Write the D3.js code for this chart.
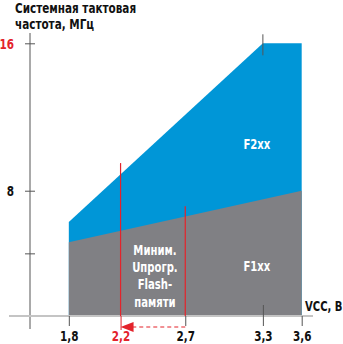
<!DOCTYPE html>
<html>
<head>
<meta charset="utf-8">
<script src="https://cdn.jsdelivr.net/npm/d3@7"></script>
<style>
  body { margin: 0; background: #fff; }
  text { font-family: "Liberation Sans Narrow", "DejaVu Sans Condensed", "Roboto", sans-serif; font-weight: bold; }
</style>
</head>
<body>
<svg id="chart" width="343" height="344"></svg>
<script>
// Supply voltage (V) vs. system clock frequency (MHz) for the two families
const f1Volt = [1.8, 3.6];
const f1Freq = [5.2, 8.0];
const f2Volt = [1.8, 3.3, 3.6];
const f2Freq = [6.3, 16, 16];

const xTicks = [1.8, 2.2, 2.7, 3.3, 3.6];
const xTickLabels = ["1,8", "2,2", "2,7", "3,3", "3,6"];
const yTicks = [4.6, 8, 16];
const yTickLabels = ["", "8", "16"];

// Minimum programming voltage markers
const markerVolt = [2.2, 2.7];
const markerTop = [9.5, 7.15];

const titleLines = ["Системная тактовая", "частота, МГц"];
const midLabel = ["Миним.", "Uпрогр.", "Flash-", "памяти"];

const RED = "#e3232b", BLUE = "#0096d7", GREY = "#808084", AXIS = "#555";
const NARROW = 0.8; // horizontal squeeze for a condensed look

// Squeeze text horizontally around its own anchor point
function narrow(sel, sx = NARROW) {
  sel.each(function () {
    const t = d3.select(this);
    const tx = +t.attr("x") || 0, ty = +t.attr("y") || 0;
    t.attr("x", 0).attr("y", 0)
     .attr("transform", `translate(${tx},${ty}) scale(${sx},1)`);
  });
}

const svg = d3.select("#chart");
const x = d3.scaleLinear().domain([1.5, 3.6]).range([30, 301.7]);
const y = d3.scaleLinear().domain([1.2, 16]).range([316, 43.3]);

const f2 = f2Volt.map((v, i) => ({ v, f: f2Freq[i] }));
const f1 = f1Volt.map((v, i) => ({ v, f: f1Freq[i] }));
const area = d3.area().x(d => x(d.v)).y0(y(1.2)).y1(d => y(d.f));

svg.append("path").datum(f2).attr("d", area).attr("fill", BLUE);
svg.append("path").datum(f1).attr("d", area).attr("fill", GREY);

// Title
svg.append("g").selectAll("text").data(titleLines).join("text")
  .attr("x", 15).attr("y", (d, i) => 12.5 + i * 16)
  .attr("font-size", 14.5).attr("fill", "#111").text(d => d)
  .call(narrow);

// Y axis
svg.append("line").attr("x1", x(1.5)).attr("x2", x(1.5)).attr("y1", 33).attr("y2", 329)
  .attr("stroke", AXIS).attr("stroke-width", 1);
const yAxis = svg.append("g").attr("transform", `translate(${x(1.5)},0)`)
  .call(d3.axisLeft(y).tickValues(yTicks).tickSize(5).tickPadding(11)
    .tickFormat((d, i) => yTickLabels[i]));
yAxis.select(".domain").remove();
yAxis.selectAll(".tick line").attr("x1", 5).attr("x2", -5).attr("stroke", AXIS);
yAxis.selectAll(".tick text")
  .attr("font-size", 14.5).attr("font-family", null)
  .attr("dy", "0.36em")
  .attr("fill", d => d === 16 ? RED : "#111")
  .call(narrow);

// X axis baseline and ticks
svg.append("line").attr("x1", 9).attr("x2", 313).attr("y1", y(1.2)).attr("y2", y(1.2))
  .attr("stroke", "#c4c4c4").attr("stroke-width", 2);
const xAxis = svg.append("g").attr("transform", `translate(0,${y(1.2)})`)
  .call(d3.axisBottom(x).tickValues(xTicks).tickSize(10).tickPadding(6)
    .tickFormat((d, i) => xTickLabels[i]));
xAxis.select(".domain").remove();
xAxis.selectAll(".tick line")
  .attr("stroke", d => d === 2.2 ? RED : AXIS)
  .attr("y1", d => d === 3.3 ? -11 : 0)
  .attr("y2", d => d === 2.2 ? 14 : 10);
xAxis.selectAll(".tick text")
  .attr("font-size", 14.5).attr("font-family", null)
  .attr("dy", 0).attr("y", 25)
  .attr("fill", d => d === 2.2 ? RED : "#111")
  .call(narrow);

// Tick at the 16 MHz corner
svg.append("line").attr("x1", x(3.3)).attr("x2", x(3.3)).attr("y1", y(16) - 9).attr("y2", y(16) + 12)
  .attr("stroke", AXIS);

// Minimum programming voltage markers
svg.append("g").selectAll("line").data(markerVolt).join("line")
  .attr("x1", d => x(d)).attr("x2", d => x(d))
  .attr("y1", (d, i) => y(markerTop[i])).attr("y2", y(1.2))
  .attr("stroke", RED).attr("stroke-width", 1.2);

// Dashed arrow from 2,7 back to 2,2
const ay = y(1.2) + 11;
svg.append("line").attr("x1", x(2.7)).attr("x2", x(2.2) + 10).attr("y1", ay).attr("y2", ay)
  .attr("stroke", RED).attr("stroke-width", 1.2).attr("stroke-dasharray", "4,3");
svg.append("path")
  .attr("d", `M${x(2.2)},${ay} L${x(2.2) + 13},${ay - 5} L${x(2.2) + 13},${ay + 5} Z`)
  .attr("fill", RED);

// Labels inside areas
svg.append("g").selectAll("text").data(midLabel).join("text")
  .attr("x", (x(2.2) + x(2.7)) / 2 + 2).attr("y", (d, i) => 255 + i * 17.2)
  .attr("text-anchor", "middle").attr("font-size", 14).attr("fill", "#fff").text(d => d)
  .call(narrow);
svg.append("text").attr("x", x(3.3) - 6).attr("y", 149).attr("text-anchor", "middle")
  .attr("font-size", 14).attr("fill", "#fff").text("F2xx").call(narrow);
svg.append("text").attr("x", x(3.3) - 6).attr("y", 271).attr("text-anchor", "middle")
  .attr("font-size", 14).attr("fill", "#fff").text("F1xx").call(narrow);

// X axis title
svg.append("text").attr("x", 305).attr("y", 311).attr("font-size", 14)
  .attr("fill", "#111").text("VCC, В").call(narrow);
</script>
</body>
</html>
